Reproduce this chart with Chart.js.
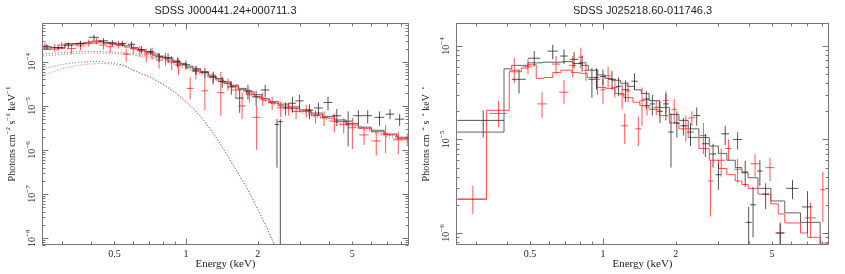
<!DOCTYPE html>
<html>
<head>
<meta charset="utf-8">
<script src="https://cdn.jsdelivr.net/npm/chart.js@4.4.0/dist/chart.umd.min.js"></script>
<style>
body { margin: 0; background: #fff; width: 845px; height: 274px; overflow: hidden; position: relative; }
canvas { position: absolute; top: 0; }
#left { left: 0; }
#right { left: 422px; }
</style>
</head>
<body>
<canvas id="left" width="422" height="274"></canvas>
<canvas id="right" width="423" height="274"></canvas>
<script>
// ---- datos panel izquierdo: SDSS J000441.24+000711.3 ----
const leftTitle = 'SDSS J000441.24+000711.3';
const leftModelE = [0.248,0.27,0.29,0.31,0.33,0.35,0.37,0.39,0.42,0.45,0.48,0.51,0.55,0.59,0.63,0.67,0.72,0.77,0.82,0.88,0.94,1.0,1.07,1.15,1.24,1.33,1.43,1.54,1.66,1.79,1.93,2.08,2.25,2.45,2.7,3.0,3.35,3.75,4.2,4.7,5.3,6.0,6.8,7.7,8.65];
const leftModelBlack = [2.05e-4,2.1e-4,2.1e-4,2.6e-4,2.6e-4,2.65e-4,2.7e-4,2.85e-4,2.9e-4,2.75e-4,2.65e-4,2.5e-4,2.3e-4,2.1e-4,1.9e-4,1.7e-4,1.5e-4,1.35e-4,1.2e-4,1.05e-4,9.2e-5,8.0e-5,7.0e-5,6.0e-5,5.0e-5,4.2e-5,3.5e-5,2.95e-5,2.5e-5,2.1e-5,1.8e-5,1.45e-5,1.25e-5,1.1e-5,9.5e-6,8.1e-6,6.9e-6,5.8e-6,4.8e-6,4.0e-6,3.3e-6,2.8e-6,2.3e-6,1.95e-6,1.8e-6];
const leftModelRed = [1.9e-4,1.95e-4,2.0e-4,2.4e-4,2.45e-4,2.5e-4,2.55e-4,2.65e-4,2.7e-4,2.6e-4,2.5e-4,2.35e-4,2.15e-4,1.95e-4,1.75e-4,1.6e-4,1.4e-4,1.25e-4,1.1e-4,9.7e-5,8.5e-5,7.4e-5,6.5e-5,5.6e-5,4.7e-5,3.9e-5,3.3e-5,2.75e-5,2.35e-5,1.95e-5,1.65e-5,1.35e-5,1.15e-5,1.0e-5,8.8e-6,7.5e-6,6.3e-6,5.3e-6,4.4e-6,3.7e-6,3.1e-6,2.6e-6,2.2e-6,1.8e-6,1.6e-6];
const leftCompE = [0.25,0.3,0.35,0.4,0.5,0.6,0.7,0.8,1.0,1.3,1.7,2.2,3,4,5.5,7,8.6];
const leftCompBlack = [1.5e-4,1.62e-4,1.7e-4,1.72e-4,1.68e-4,1.55e-4,1.35e-4,1.15e-4,7.6e-5,4.4e-5,2.35e-5,1.3e-5,8e-6,5.2e-6,3.3e-6,2.2e-6,1.75e-6];
const leftCompRed = [1.35e-4,1.47e-4,1.55e-4,1.58e-4,1.55e-4,1.42e-4,1.25e-4,1.07e-4,7e-5,4.1e-5,2.2e-5,1.2e-5,7.2e-6,4.7e-6,3e-6,2e-6,1.6e-6];
const leftBbE = [0.25,0.3,0.35,0.4,0.45,0.5,0.55,0.6,0.7,0.8,0.9,1.0,1.1,1.2,1.35,1.5,1.6,1.8,2.0,2.2,2.35];
const leftBbBlack = [7.0e-5,8.7e-5,9.7e-5,1.02e-4,1.0e-4,9.3e-5,8.3e-5,6.5e-5,4.6e-5,3.1e-5,2.0e-5,1.25e-5,7.5e-6,4.4e-6,1.8e-6,7.2e-7,4e-7,1.4e-7,4.6e-8,1.6e-8,7e-9];
const leftBbRed = [5.0e-5,7.0e-5,8.3e-5,9.0e-5,9.2e-5,8.8e-5,8.0e-5,6.4e-5,4.6e-5,3.1e-5,2.0e-5,1.25e-5,7.5e-6,4.4e-6,1.8e-6,7.2e-7,4e-7,1.4e-7,4.6e-8,1.6e-8,7e-9];

const leftBlackE  = [0.26,0.29,0.32,0.36,0.41,0.45,0.49,0.54,0.59,0.65,0.71,0.77,0.84,0.92,1.0,1.1,1.2,1.3,1.42,1.55,1.68,1.82,1.97,2.15,2.41,2.49,2.62,2.8,3.0,3.3,3.6,3.95,4.3,4.8,5.3,5.8,6.5,7.2,7.9];
const leftBlackW  = [0.012,0.014,0.015,0.018,0.02,0.02,0.02,0.02,0.02,0.025,0.025,0.03,0.03,0.035,0.04,0.04,0.05,0.05,0.06,0.06,0.07,0.07,0.08,0.09,0.05,0.06,0.06,0.1,0.12,0.13,0.15,0.17,0.18,0.2,0.25,0.25,0.3,0.3,0.35];
const leftBlackF  = [2.2e-4,2.1e-4,2.4e-4,2.6e-4,3.6e-4,3.0e-4,2.7e-4,2.6e-4,2.5e-4,1.9e-4,1.7e-4,1.3e-4,1.25e-4,1.0e-4,8.6e-5,6.5e-5,5.8e-5,4.5e-5,3.6e-5,2.7e-5,1.5e-5,2.2e-5,1.6e-5,2.3e-5,3.8e-6,4.4e-6,9e-6,1.15e-5,1.3e-5,8e-6,9e-6,1.2e-5,6e-6,4.5e-6,6e-6,6e-6,5.5e-6,6.5e-6,5e-6];
const leftBlackLo = [1.9e-4,1.8e-4,2.05e-4,2.2e-4,3.1e-4,2.55e-4,2.3e-4,2.2e-4,2.1e-4,1.55e-4,1.4e-4,1.0e-4,9.5e-5,7.5e-5,6.6e-5,5.0e-5,4.3e-5,3.3e-5,2.6e-5,1.8e-5,7e-6,1.4e-5,1.0e-5,1.6e-5,4e-7,1e-9,6e-6,7e-6,9e-6,5e-6,6e-6,8e-6,3.5e-6,1.2e-6,4e-6,4e-6,3.5e-6,5e-6,3.5e-6];
const leftBlackHi = [2.5e-4,2.4e-4,2.75e-4,3.0e-4,4.1e-4,3.45e-4,3.1e-4,3.0e-4,2.9e-4,2.25e-4,2.0e-4,1.6e-4,1.55e-4,1.25e-4,1.06e-4,8.0e-5,7.3e-5,5.7e-5,4.6e-5,3.6e-5,2.3e-5,3.0e-5,2.2e-5,3.0e-5,5e-6,5e-6,1.2e-5,1.6e-5,1.8e-5,1.1e-5,1.2e-5,1.6e-5,8.5e-6,7.5e-6,8e-6,8e-6,7.5e-6,8.5e-6,6.5e-6];

const leftRedE  = [0.255,0.28,0.3,0.33,0.36,0.39,0.42,0.45,0.48,0.52,0.56,0.6,0.64,0.68,0.72,0.77,0.82,0.87,0.93,1.04,1.1,1.2,1.3,1.4,1.5,1.62,1.72,1.85,1.98,2.1,2.3,2.5,2.7,2.9,3.2,3.5,3.8,4.2,4.6,5.0,5.6,6.3,6.9,7.8,8.5];
const leftRedW  = [0.01,0.012,0.012,0.014,0.015,0.015,0.017,0.018,0.018,0.02,0.02,0.02,0.02,0.02,0.025,0.025,0.025,0.03,0.03,0.035,0.04,0.04,0.05,0.05,0.05,0.06,0.06,0.07,0.08,0.08,0.09,0.1,0.1,0.12,0.13,0.15,0.15,0.18,0.2,0.2,0.25,0.3,0.3,0.4,0.3];
const leftRedF  = [2.3e-4,2.1e-4,2.4e-4,2.0e-4,2.3e-4,2.7e-4,3.0e-4,2.4e-4,2.2e-4,2.5e-4,1.5e-4,2.0e-4,1.8e-4,1.5e-4,1.6e-4,1.1e-4,1.2e-4,1.0e-4,8.5e-5,2.5e-5,6e-5,2.2e-5,4.5e-5,2.0e-5,3.2e-5,2.3e-5,1.0e-5,1.8e-5,5.5e-6,1.5e-5,1.2e-5,9e-6,9e-6,7.5e-6,8e-6,6e-6,5.5e-6,4.5e-6,3.8e-6,3.2e-6,2.2e-6,1.6e-6,2.3e-6,1.7e-6,1.8e-6];
const leftRedLo = [1.9e-4,1.7e-4,2.0e-4,1.5e-4,1.8e-4,2.2e-4,2.5e-4,1.9e-4,1.6e-4,2.0e-4,1.0e-4,1.5e-4,1.3e-4,1.0e-4,1.1e-4,7e-5,8e-5,6.5e-5,5e-5,1.4e-5,4e-5,8e-6,3e-5,6e-6,2.2e-5,1.5e-5,5e-6,1.2e-5,1e-6,1e-5,8e-6,5.5e-6,6e-6,5e-6,5.5e-6,4e-6,3.5e-6,2.5e-6,2.4e-6,1.05e-6,1.3e-6,7.5e-7,8.5e-7,8e-7,1.2e-6];
const leftRedHi = [2.7e-4,2.5e-4,2.8e-4,2.4e-4,2.8e-4,3.2e-4,3.5e-4,2.9e-4,2.8e-4,3.0e-4,2.0e-4,2.5e-4,2.3e-4,2.0e-4,2.1e-4,1.5e-4,1.6e-4,1.35e-4,1.2e-4,4.5e-5,8e-5,4.5e-5,6e-5,5.9e-5,4.2e-5,3.1e-5,2.0e-5,2.4e-5,1.0e-5,2.0e-5,1.6e-5,1.25e-5,1.2e-5,1.0e-5,1.05e-5,8e-6,7.5e-6,6.5e-6,5.2e-6,5.3e-6,3.1e-6,2.6e-6,3.7e-6,2.6e-6,2.4e-6];

// ---- datos panel derecho: SDSS J025218.60-011746.3 ----
const rightTitle = 'SDSS J025218.60-011746.3';
const rightModelBlackE = [0.25,0.39,0.42,0.49,0.56,0.68,0.75,0.82,0.87,0.95,1.02,1.09,1.18,1.26,1.35,1.44,1.55,1.71,1.88,2.06,2.25,2.49,2.75,3.0,3.25,3.52,3.75,3.98,4.37,4.94,5.64,6.55,7.9,8.6];
const rightModelBlack  = [1.2e-5,5.7e-5,6.2e-5,6.6e-5,6.7e-5,6.8e-5,6.5e-5,6.2e-5,5.5e-5,4.9e-5,4.5e-5,4.3e-5,4.0e-5,3.7e-5,3.4e-5,3.1e-5,2.6e-5,2.2e-5,1.85e-5,1.6e-5,1.3e-5,1.05e-5,8.5e-6,7.1e-6,6.0e-6,5.0e-6,4.4e-6,3.9e-6,3.0e-6,2.2e-6,1.64e-6,1.3e-6,7.6e-7,7.6e-7];
const rightModelRedE = [0.25,0.33,0.41,0.46,0.49,0.53,0.57,0.62,0.67,0.74,0.8,0.86,0.94,1.03,1.12,1.22,1.33,1.42,1.55,1.71,1.88,2.06,2.25,2.49,2.75,3.0,3.25,3.52,3.75,3.98,4.37,4.94,5.3,5.64,6.55,7.0,7.9,8.6];
const rightModelRed  = [2.3e-6,2.05e-5,5.3e-5,5.8e-5,6.3e-5,4.5e-5,4.6e-5,5.2e-5,5.5e-5,5.2e-5,5.1e-5,4.6e-5,3.6e-5,3.5e-5,3.1e-5,2.8e-5,2.5e-5,2.3e-5,2.1e-5,1.8e-5,1.5e-5,1.3e-5,1.05e-5,8e-6,6e-6,4.9e-6,4.2e-6,3.6e-6,3.3e-6,3.0e-6,2.6e-6,2.05e-6,1.6e-6,1.28e-6,1.0e-6,9e-7,7.6e-7,7.6e-7];

const rightBlackE  = [0.32,0.45,0.52,0.62,0.69,0.76,0.82,0.9,0.94,1.0,1.09,1.16,1.24,1.35,1.51,1.6,1.72,1.82,1.91,2.02,2.15,2.3,2.44,2.65,2.85,3.0,3.2,3.6,3.87,4.0,4.17,4.45,4.7,5.4,6.07,7.0];
const rightBlackW  = [0.07,0.03,0.03,0.03,0.025,0.03,0.025,0.03,0.02,0.03,0.04,0.03,0.04,0.04,0.05,0.04,0.05,0.05,0.05,0.06,0.06,0.07,0.08,0.09,0.09,0.08,0.12,0.15,0.1,0.12,0.12,0.12,0.15,0.2,0.35,0.35];
const rightBlackF  = [1.6e-5,4.4e-5,7.4e-5,8.8e-5,7.8e-5,7.2e-5,6.6e-5,4.4e-5,4.6e-5,4.7e-5,4.4e-5,3.7e-5,3.4e-5,4.2e-5,2.7e-5,2.4e-5,2.0e-5,2.4e-5,1.2e-5,1.5e-5,1.4e-5,1.2e-5,1.8e-5,9e-6,7e-6,4.2e-6,1.15e-5,1.0e-5,4.5e-6,1.3e-6,2.0e-6,4.6e-6,2.6e-6,1.0e-6,3.0e-6,1.9e-6];
const rightBlackLo = [1.05e-5,3.1e-5,6.0e-5,7.2e-5,6.4e-5,5.8e-5,5.3e-5,2.8e-5,3.4e-5,3.8e-5,3.4e-5,2.9e-5,2.5e-5,3.4e-5,2.1e-5,1.8e-5,1.5e-5,1.6e-5,5e-6,1.05e-5,1.1e-5,8.5e-6,1.4e-5,6.5e-6,5e-6,2.9e-6,8.7e-6,7.8e-6,3.1e-6,7.5e-7,9e-7,3.2e-6,1.8e-6,7.4e-7,2.3e-6,1.0e-6];
const rightBlackHi = [2.05e-5,5.6e-5,8.8e-5,1.03e-4,9.2e-5,8.6e-5,7.9e-5,5.8e-5,5.8e-5,5.6e-5,5.4e-5,4.6e-5,4.3e-5,5.1e-5,3.3e-5,3.0e-5,2.6e-5,3.1e-5,1.9e-5,2.0e-5,1.7e-5,1.5e-5,2.2e-5,1.15e-5,9e-6,5.5e-6,1.4e-5,1.2e-5,5.9e-6,1.9e-6,3.1e-6,6.0e-6,3.4e-6,1.3e-6,3.7e-6,2.8e-6];

const rightRedE  = [0.29,0.37,0.43,0.49,0.56,0.64,0.69,0.75,0.81,0.85,0.95,1.0,1.05,1.12,1.2,1.23,1.27,1.4,1.45,1.52,1.66,1.82,1.97,2.2,2.33,2.6,2.78,3.08,3.3,3.6,4.25,4.9,5.4,7.2,8.1];
const rightRedW  = [0.04,0.03,0.02,0.02,0.025,0.025,0.03,0.025,0.02,0.02,0.025,0.025,0.03,0.03,0.03,0.04,0.03,0.04,0.04,0.05,0.05,0.05,0.05,0.06,0.08,0.08,0.07,0.12,0.1,0.12,0.18,0.2,0.25,0.4,0.2];
const rightRedF  = [2.3e-6,1.9e-5,5.5e-5,6.0e-5,2.4e-5,6.4e-5,3.2e-5,6.2e-5,7.6e-5,5.5e-5,4.4e-5,3.4e-5,4.8e-5,3.6e-5,3.0e-5,1.4e-5,3.3e-5,1.3e-5,2.6e-5,2.3e-5,2.2e-5,2.6e-5,2.1e-5,1.4e-5,1.7e-5,1.1e-5,3.6e-6,6e-6,8e-6,4.8e-6,5.5e-6,5e-6,1.0e-6,1.45e-6,2.9e-6];
const rightRedLo = [1.6e-6,1.35e-5,4.0e-5,5.0e-5,1.7e-5,5.0e-5,2.4e-5,4.6e-5,5.8e-5,4.2e-5,3.0e-5,2.4e-5,3.6e-5,2.8e-5,2.1e-5,9e-6,2.5e-5,8.5e-6,1.4e-5,1.8e-5,1.8e-5,1.9e-5,1.5e-5,9.5e-6,1.4e-5,7e-6,1.5e-6,4e-6,6e-6,3.4e-6,4e-6,3.6e-6,7.5e-7,9e-7,1.3e-6];
const rightRedHi = [3.2e-6,2.6e-5,7.5e-5,7.2e-5,3.2e-5,7.8e-5,4.3e-5,7.8e-5,9.6e-5,6.8e-5,5.6e-5,4.4e-5,6.0e-5,4.4e-5,3.9e-5,1.9e-5,4.1e-5,1.75e-5,3.6e-5,2.8e-5,2.6e-5,3.3e-5,2.7e-5,1.8e-5,2.0e-5,1.5e-5,6e-6,8e-6,1e-5,6.2e-6,7e-6,6.4e-6,1.25e-6,2.1e-6,4.5e-6];

// etiquetas de los ejes
const xTickLabels = [0.5, 1, 2, 5];
const leftYExps = [-4, -5, -6, -7, -8];
const rightYExps = [-4, -5, -6];
const xAxisTitle = 'Energy (keV)';
const yAxisTitle = [['Photons cm', false], ['\u22122', true], [' s', false], ['\u22121', true], [' keV', false], ['\u22121', true]];

const BLACK_DATA = 'rgba(40,40,40,0.8)';
const BLACK_MODEL = 'rgba(70,70,70,0.85)';
const RED_DATA = 'rgba(255,30,30,0.75)';
const RED_MODEL = 'rgba(255,50,50,0.85)';

function toPoints(E, F) {
    return E.map((e, i) => ({ x: e, y: F[i] }));
}
function toErrPoints(E, W, F, lo, hi) {
    return E.map((e, i) => ({ x: e, y: F[i], xMin: e - W[i], xMax: e + W[i], yMin: lo[i], yMax: hi[i] }));
}

// Dibuja texto con superíndices
function richWidth(ctx, parts, size) {
    let w = 0;
    parts.forEach(([t, sup]) => {
        ctx.font = (sup ? size * 0.7 : size) + 'px "Liberation Serif"';
        w += ctx.measureText(t).width;
    });
    return w;
}
function drawRich(ctx, parts, size, x, y) {
    let cx = x - richWidth(ctx, parts, size) / 2;
    ctx.textAlign = 'left';
    ctx.textBaseline = 'middle';
    parts.forEach(([t, sup]) => {
        ctx.font = (sup ? size * 0.7 : size) + 'px "Liberation Serif"';
        ctx.fillText(t, cx, sup ? y - size * 0.35 : y);
        cx += ctx.measureText(t).width;
    });
}

// Plugin para barras de error (cruces)
const errorBars = {
    id: 'errorBars',
    afterDatasetsDraw(chart) {
        const { ctx, chartArea: a, scales: { x, y } } = chart;
        ctx.save();
        ctx.beginPath();
        ctx.rect(a.left, a.top, a.width, a.height);
        ctx.clip();
        chart.data.datasets.forEach(ds => {
            if (!ds.crosses) return;
            ctx.strokeStyle = ds.borderColor;
            ctx.lineWidth = 1;
            ds.data.forEach(p => {
                const px = x.getPixelForValue(p.x);
                const py = y.getPixelForValue(p.y);
                ctx.beginPath();
                ctx.moveTo(x.getPixelForValue(p.xMin), py);
                ctx.lineTo(x.getPixelForValue(p.xMax), py);
                ctx.moveTo(px, y.getPixelForValue(p.yMin));
                ctx.lineTo(px, y.getPixelForValue(p.yMax));
                ctx.stroke();
            });
        });
        ctx.restore();
    }
};

// Plugin para marco, marcas y textos estilo XSPEC
const frame = {
    id: 'frame',
    afterDraw(chart, args, opts) {
        const { ctx, chartArea: a, scales: { x, y } } = chart;
        ctx.save();
        ctx.strokeStyle = '#777';
        ctx.lineWidth = 1;
        const L = Math.round(a.left) + 0.5, R = Math.round(a.right) - 0.5;
        const T = Math.round(a.top) + 0.5, B = Math.round(a.bottom) - 0.5;
        ctx.strokeRect(L, T, R - L, B - T);

        ctx.beginPath();
        for (let d = -1; d <= 0; d++) {
            for (let m = 1; m <= 9; m++) {
                const v = m * Math.pow(10, d);
                if (v < x.min || v > x.max) continue;
                const px = Math.round(x.getPixelForValue(v)) + 0.5;
                const len = m === 1 ? 6 : 3;
                ctx.moveTo(px, B); ctx.lineTo(px, B - len);
                ctx.moveTo(px, T); ctx.lineTo(px, T + len);
            }
        }
        for (let d = -9; d <= -3; d++) {
            for (let m = 1; m <= 9; m++) {
                const v = m * Math.pow(10, d);
                if (v < y.min || v > y.max) continue;
                const py = Math.round(y.getPixelForValue(v)) + 0.5;
                const len = m === 1 ? 6 : 3;
                ctx.moveTo(L, py); ctx.lineTo(L + len, py);
                ctx.moveTo(R, py); ctx.lineTo(R - len, py);
            }
        }
        ctx.stroke();

        ctx.fillStyle = '#222';
        // etiquetas eje X
        ctx.font = '10px "Liberation Serif"';
        ctx.textAlign = 'center';
        ctx.textBaseline = 'middle';
        xTickLabels.forEach(v => ctx.fillText(String(v), x.getPixelForValue(v), a.bottom + 9));
        ctx.font = '11px "Liberation Serif"';
        ctx.fillText(xAxisTitle, (a.left + a.right) / 2, a.bottom + 19);

        // etiquetas eje Y (rotadas)
        opts.yExps.forEach(e => {
            const py = y.getPixelForValue(Math.pow(10, e));
            ctx.save();
            ctx.translate(a.left - 10, py);
            ctx.rotate(-Math.PI / 2);
            drawRich(ctx, [['10', false], ['\u2212' + Math.abs(e), true]], 10, 0, 0);
            ctx.restore();
        });
        ctx.save();
        ctx.translate(a.left - 30, (a.top + a.bottom) / 2);
        ctx.rotate(-Math.PI / 2);
        drawRich(ctx, yAxisTitle, 10, 0, 0);
        ctx.restore();

        // título
        ctx.font = '11px "Liberation Sans"';
        ctx.textAlign = 'center';
        ctx.fillText(opts.title, (a.left + a.right) / 2, 11);
        ctx.restore();
    }
};

function makeChart(id, cfg) {
    const ctx = document.getElementById(id).getContext('2d');
    return new Chart(ctx, {
        type: 'scatter',
        data: { datasets: cfg.datasets },
        options: {
            responsive: false,
            animation: false,
            devicePixelRatio: 1,
            layout: { padding: cfg.padding },
            plugins: {
                legend: { display: false },
                tooltip: { enabled: false },
                frame: { title: cfg.title, yExps: cfg.yExps }
            },
            scales: {
                x: { type: 'logarithmic', min: cfg.xMin, max: cfg.xMax, display: false },
                y: { type: 'logarithmic', min: cfg.yMin, max: cfg.yMax, display: false }
            }
        },
        plugins: [errorBars, frame]
    });
}

function stepLine(data, color) {
    return { data, showLine: true, stepped: 'before', borderColor: color, borderWidth: 1, pointRadius: 0 };
}
function dotLine(data, color) {
    return { data, showLine: true, borderColor: color, borderWidth: 1, borderDash: [1, 2], pointRadius: 0 };
}
function crossSet(data, color) {
    return { data, showLine: false, pointRadius: 0, borderColor: color, crosses: true };
}

makeChart('left', {
    title: leftTitle,
    yExps: leftYExps,
    padding: { left: 42, right: 13, top: 23, bottom: 29 },
    xMin: 0.248, xMax: 8.65, yMin: 7.3e-9, yMax: 7.6e-4,
    datasets: [
        dotLine(toPoints(leftBbE, leftBbRed), 'rgba(230,60,60,0.8)'),
        dotLine(toPoints(leftBbE, leftBbBlack), 'rgba(80,80,80,0.8)'),
        dotLine(toPoints(leftCompE, leftCompRed), 'rgba(230,60,60,0.8)'),
        dotLine(toPoints(leftCompE, leftCompBlack), 'rgba(80,80,80,0.8)'),
        crossSet(toErrPoints(leftRedE, leftRedW, leftRedF, leftRedLo, leftRedHi), RED_DATA),
        crossSet(toErrPoints(leftBlackE, leftBlackW, leftBlackF, leftBlackLo, leftBlackHi), BLACK_DATA),
        stepLine(toPoints(leftModelE, leftModelRed), RED_MODEL),
        stepLine(toPoints(leftModelE, leftModelBlack), BLACK_MODEL)
    ]
});

makeChart('right', {
    title: rightTitle,
    yExps: rightYExps,
    padding: { left: 34, right: 16, top: 23, bottom: 29 },
    xMin: 0.247, xMax: 8.59, yMin: 7.44e-7, yMax: 1.76e-4,
    datasets: [
        crossSet(toErrPoints(rightRedE, rightRedW, rightRedF, rightRedLo, rightRedHi), RED_DATA),
        crossSet(toErrPoints(rightBlackE, rightBlackW, rightBlackF, rightBlackLo, rightBlackHi), BLACK_DATA),
        stepLine(toPoints(rightModelRedE, rightModelRed), RED_MODEL),
        stepLine(toPoints(rightModelBlackE, rightModelBlack), BLACK_MODEL)
    ]
});
</script>
</body>
</html>
